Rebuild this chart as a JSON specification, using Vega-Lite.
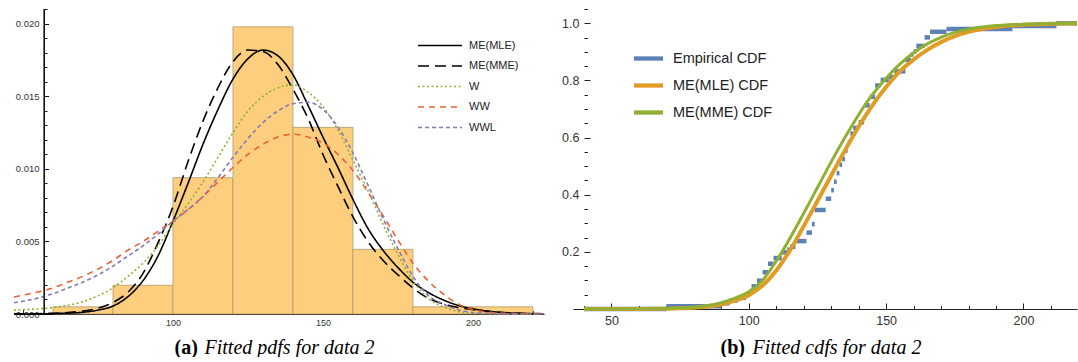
{
"$schema":"https://vega.github.io/schema/vega-lite/v6.json",
"padding":{"left":10,"top":8,"right":0,"bottom":0},
"background":"white",
"spacing":14,
"resolve":{"scale":{"color":"independent","strokeDash":"independent"},"legend":{"color":"independent","strokeDash":"independent"}},
"config":{"view":{"stroke":null},"axis":{"grid":false,"labelFont":"Liberation Sans","labelColor":"#333","zindex":1}},
"datasets":{
"hist":[{"lo":60,"hi":80,"density":0.000495},{"lo":80,"hi":100,"density":0.00198},{"lo":100,"hi":120,"density":0.0094},{"lo":120,"hi":140,"density":0.0198},{"lo":140,"hi":160,"density":0.01287},{"lo":160,"hi":180,"density":0.00446},{"lo":180,"hi":220,"density":0.000495}],
"origin":[{"x0":57}],
"pdf":[
{"x":47,"y":0,"m":"ME(MLE)"},{"x":50,"y":0,"m":"ME(MLE)"},{"x":55,"y":0.00001,"m":"ME(MLE)"},{"x":60,"y":0.00003,"m":"ME(MLE)"},{"x":65,"y":0.00006,"m":"ME(MLE)"},{"x":70,"y":0.00012,"m":"ME(MLE)"},{"x":75,"y":0.00027,"m":"ME(MLE)"},{"x":80,"y":0.00055,"m":"ME(MLE)"},{"x":85,"y":0.0012,"m":"ME(MLE)"},{"x":90,"y":0.0023,"m":"ME(MLE)"},{"x":95,"y":0.004,"m":"ME(MLE)"},{"x":100,"y":0.0064,"m":"ME(MLE)"},{"x":105,"y":0.009,"m":"ME(MLE)"},{"x":110,"y":0.0117,"m":"ME(MLE)"},{"x":115,"y":0.0141,"m":"ME(MLE)"},{"x":120,"y":0.0162,"m":"ME(MLE)"},{"x":125,"y":0.0176,"m":"ME(MLE)"},{"x":130,"y":0.0182,"m":"ME(MLE)"},{"x":135,"y":0.0178,"m":"ME(MLE)"},{"x":140,"y":0.0165,"m":"ME(MLE)"},{"x":145,"y":0.0144,"m":"ME(MLE)"},{"x":150,"y":0.0122,"m":"ME(MLE)"},{"x":155,"y":0.0101,"m":"ME(MLE)"},{"x":160,"y":0.0079,"m":"ME(MLE)"},{"x":165,"y":0.0059,"m":"ME(MLE)"},{"x":170,"y":0.0044,"m":"ME(MLE)"},{"x":175,"y":0.0032,"m":"ME(MLE)"},{"x":180,"y":0.0022,"m":"ME(MLE)"},{"x":185,"y":0.0015,"m":"ME(MLE)"},{"x":190,"y":0.00098,"m":"ME(MLE)"},{"x":195,"y":0.0006,"m":"ME(MLE)"},{"x":200,"y":0.00036,"m":"ME(MLE)"},{"x":205,"y":0.0002,"m":"ME(MLE)"},{"x":210,"y":0.0001,"m":"ME(MLE)"},{"x":215,"y":0.00005,"m":"ME(MLE)"},{"x":220,"y":0.00002,"m":"ME(MLE)"},{"x":223.5,"y":0.00001,"m":"ME(MLE)"},
{"x":47,"y":0,"m":"ME(MME)"},{"x":50,"y":0.00001,"m":"ME(MME)"},{"x":55,"y":0.00002,"m":"ME(MME)"},{"x":60,"y":0.00005,"m":"ME(MME)"},{"x":65,"y":0.0001,"m":"ME(MME)"},{"x":70,"y":0.0002,"m":"ME(MME)"},{"x":75,"y":0.0004,"m":"ME(MME)"},{"x":80,"y":0.0008,"m":"ME(MME)"},{"x":85,"y":0.0015,"m":"ME(MME)"},{"x":90,"y":0.0028,"m":"ME(MME)"},{"x":95,"y":0.0049,"m":"ME(MME)"},{"x":100,"y":0.0074,"m":"ME(MME)"},{"x":105,"y":0.0105,"m":"ME(MME)"},{"x":110,"y":0.0133,"m":"ME(MME)"},{"x":115,"y":0.0156,"m":"ME(MME)"},{"x":120,"y":0.0174,"m":"ME(MME)"},{"x":125,"y":0.0182,"m":"ME(MME)"},{"x":130,"y":0.0181,"m":"ME(MME)"},{"x":135,"y":0.0172,"m":"ME(MME)"},{"x":140,"y":0.0155,"m":"ME(MME)"},{"x":145,"y":0.0135,"m":"ME(MME)"},{"x":150,"y":0.011,"m":"ME(MME)"},{"x":155,"y":0.0088,"m":"ME(MME)"},{"x":160,"y":0.0067,"m":"ME(MME)"},{"x":165,"y":0.005,"m":"ME(MME)"},{"x":170,"y":0.0037,"m":"ME(MME)"},{"x":175,"y":0.0027,"m":"ME(MME)"},{"x":180,"y":0.0018,"m":"ME(MME)"},{"x":185,"y":0.0011,"m":"ME(MME)"},{"x":190,"y":0.0007,"m":"ME(MME)"},{"x":195,"y":0.00045,"m":"ME(MME)"},{"x":200,"y":0.0003,"m":"ME(MME)"},{"x":205,"y":0.00018,"m":"ME(MME)"},{"x":210,"y":0.0001,"m":"ME(MME)"},{"x":215,"y":0.00005,"m":"ME(MME)"},{"x":220,"y":0.00003,"m":"ME(MME)"},{"x":223.5,"y":0.00002,"m":"ME(MME)"},
{"x":47,"y":0.00027,"m":"W"},{"x":50,"y":0.0003,"m":"W"},{"x":55,"y":0.00035,"m":"W"},{"x":60,"y":0.00045,"m":"W"},{"x":65,"y":0.0006,"m":"W"},{"x":70,"y":0.00085,"m":"W"},{"x":75,"y":0.00125,"m":"W"},{"x":80,"y":0.0018,"m":"W"},{"x":85,"y":0.0026,"m":"W"},{"x":90,"y":0.0035,"m":"W"},{"x":95,"y":0.0047,"m":"W"},{"x":100,"y":0.0062,"m":"W"},{"x":105,"y":0.0076,"m":"W"},{"x":110,"y":0.0091,"m":"W"},{"x":115,"y":0.0108,"m":"W"},{"x":120,"y":0.0125,"m":"W"},{"x":125,"y":0.014,"m":"W"},{"x":130,"y":0.015,"m":"W"},{"x":135,"y":0.0156,"m":"W"},{"x":140,"y":0.0158,"m":"W"},{"x":145,"y":0.0153,"m":"W"},{"x":150,"y":0.0143,"m":"W"},{"x":155,"y":0.0127,"m":"W"},{"x":160,"y":0.0106,"m":"W"},{"x":165,"y":0.0085,"m":"W"},{"x":170,"y":0.0062,"m":"W"},{"x":175,"y":0.0041,"m":"W"},{"x":180,"y":0.0023,"m":"W"},{"x":185,"y":0.0011,"m":"W"},{"x":190,"y":0.0005,"m":"W"},{"x":195,"y":0.00018,"m":"W"},{"x":200,"y":0.00006,"m":"W"},{"x":205,"y":0.00002,"m":"W"},{"x":210,"y":0.00001,"m":"W"},{"x":215,"y":0,"m":"W"},{"x":220,"y":0,"m":"W"},{"x":223.5,"y":0,"m":"W"},
{"x":47,"y":0.00117,"m":"WW"},{"x":50,"y":0.0013,"m":"WW"},{"x":55,"y":0.00152,"m":"WW"},{"x":60,"y":0.0018,"m":"WW"},{"x":65,"y":0.0022,"m":"WW"},{"x":70,"y":0.0026,"m":"WW"},{"x":75,"y":0.0031,"m":"WW"},{"x":80,"y":0.0037,"m":"WW"},{"x":85,"y":0.0044,"m":"WW"},{"x":90,"y":0.005,"m":"WW"},{"x":95,"y":0.0057,"m":"WW"},{"x":100,"y":0.0064,"m":"WW"},{"x":105,"y":0.0072,"m":"WW"},{"x":110,"y":0.0081,"m":"WW"},{"x":115,"y":0.0091,"m":"WW"},{"x":120,"y":0.0101,"m":"WW"},{"x":125,"y":0.011,"m":"WW"},{"x":130,"y":0.0117,"m":"WW"},{"x":135,"y":0.0122,"m":"WW"},{"x":140,"y":0.0124,"m":"WW"},{"x":145,"y":0.0122,"m":"WW"},{"x":150,"y":0.0118,"m":"WW"},{"x":155,"y":0.011,"m":"WW"},{"x":160,"y":0.0099,"m":"WW"},{"x":165,"y":0.0084,"m":"WW"},{"x":170,"y":0.0068,"m":"WW"},{"x":175,"y":0.0051,"m":"WW"},{"x":180,"y":0.0035,"m":"WW"},{"x":185,"y":0.0023,"m":"WW"},{"x":190,"y":0.0014,"m":"WW"},{"x":195,"y":0.0007,"m":"WW"},{"x":200,"y":0.0003,"m":"WW"},{"x":205,"y":0.00012,"m":"WW"},{"x":210,"y":0.00005,"m":"WW"},{"x":215,"y":0.00002,"m":"WW"},{"x":220,"y":0,"m":"WW"},{"x":223.5,"y":0,"m":"WW"},
{"x":47,"y":0.00078,"m":"WWL"},{"x":50,"y":0.00088,"m":"WWL"},{"x":55,"y":0.0011,"m":"WWL"},{"x":60,"y":0.0014,"m":"WWL"},{"x":65,"y":0.0018,"m":"WWL"},{"x":70,"y":0.0022,"m":"WWL"},{"x":75,"y":0.0027,"m":"WWL"},{"x":80,"y":0.0033,"m":"WWL"},{"x":85,"y":0.004,"m":"WWL"},{"x":90,"y":0.0047,"m":"WWL"},{"x":95,"y":0.0055,"m":"WWL"},{"x":100,"y":0.0064,"m":"WWL"},{"x":105,"y":0.0072,"m":"WWL"},{"x":110,"y":0.0081,"m":"WWL"},{"x":115,"y":0.0094,"m":"WWL"},{"x":120,"y":0.0108,"m":"WWL"},{"x":125,"y":0.0121,"m":"WWL"},{"x":130,"y":0.0132,"m":"WWL"},{"x":135,"y":0.014,"m":"WWL"},{"x":140,"y":0.0145,"m":"WWL"},{"x":145,"y":0.0146,"m":"WWL"},{"x":150,"y":0.0141,"m":"WWL"},{"x":155,"y":0.0129,"m":"WWL"},{"x":160,"y":0.0111,"m":"WWL"},{"x":165,"y":0.0089,"m":"WWL"},{"x":170,"y":0.0066,"m":"WWL"},{"x":175,"y":0.0045,"m":"WWL"},{"x":180,"y":0.0026,"m":"WWL"},{"x":185,"y":0.0013,"m":"WWL"},{"x":190,"y":0.0007,"m":"WWL"},{"x":195,"y":0.0003,"m":"WWL"},{"x":200,"y":0.0001,"m":"WWL"},{"x":205,"y":0.00004,"m":"WWL"},{"x":210,"y":0.00001,"m":"WWL"},{"x":215,"y":0,"m":"WWL"},{"x":220,"y":0,"m":"WWL"},{"x":223.5,"y":0,"m":"WWL"}
],
"ecdf":[
{"x":40,"x2":70,"F":0},{"x":70,"x2":90,"F":0.0099},{"x":90,"x2":93,"F":0.0198},{"x":93,"x2":96,"F":0.0297},{"x":96,"x2":99,"F":0.0396},{"x":99,"x2":100,"F":0.0495},{"x":100,"x2":101,"F":0.0594},{"x":101,"x2":103,"F":0.0792},{"x":103,"x2":105,"F":0.099},{"x":105,"x2":107,"F":0.1287},{"x":107,"x2":109,"F":0.1584},{"x":109,"x2":112,"F":0.1782},{"x":112,"x2":114,"F":0.198},{"x":114,"x2":115,"F":0.2079},{"x":115,"x2":117,"F":0.2178},{"x":117,"x2":121,"F":0.2376},{"x":121,"x2":123,"F":0.2673},{"x":123,"x2":124,"F":0.297},{"x":124,"x2":128,"F":0.3465},{"x":128,"x2":130,"F":0.3861},{"x":130,"x2":131,"F":0.4158},{"x":131,"x2":132,"F":0.4455},{"x":132,"x2":133,"F":0.4752},{"x":133,"x2":134,"F":0.505},{"x":134,"x2":135,"F":0.5248},{"x":135,"x2":136,"F":0.5545},{"x":136,"x2":137,"F":0.5842},{"x":137,"x2":138,"F":0.6139},{"x":138,"x2":140,"F":0.6337},{"x":140,"x2":142,"F":0.6535},{"x":142,"x2":144,"F":0.7129},{"x":144,"x2":146,"F":0.7426},{"x":146,"x2":148,"F":0.7822},{"x":148,"x2":151,"F":0.802},{"x":151,"x2":153,"F":0.8119},{"x":153,"x2":157,"F":0.8317},{"x":157,"x2":159,"F":0.8713},{"x":159,"x2":160,"F":0.8911},{"x":160,"x2":161,"F":0.901},{"x":161,"x2":164,"F":0.9208},{"x":164,"x2":166,"F":0.9505},{"x":166,"x2":172,"F":0.9703},{"x":172,"x2":196,"F":0.9802},{"x":196,"x2":212,"F":0.9901},{"x":212,"x2":219.5,"F":1.0}
],
"cdfmle":[
{"x":40,"F":0,"s":"ME(MLE) CDF"},{"x":45,"F":0,"s":"ME(MLE) CDF"},{"x":50,"F":0,"s":"ME(MLE) CDF"},{"x":55,"F":0.0001,"s":"ME(MLE) CDF"},{"x":60,"F":0.0003,"s":"ME(MLE) CDF"},{"x":65,"F":0.0006,"s":"ME(MLE) CDF"},{"x":70,"F":0.0012,"s":"ME(MLE) CDF"},{"x":75,"F":0.0025,"s":"ME(MLE) CDF"},{"x":80,"F":0.0045,"s":"ME(MLE) CDF"},{"x":85,"F":0.0085,"s":"ME(MLE) CDF"},{"x":90,"F":0.016,"s":"ME(MLE) CDF"},{"x":95,"F":0.029,"s":"ME(MLE) CDF"},{"x":100,"F":0.048,"s":"ME(MLE) CDF"},{"x":105,"F":0.082,"s":"ME(MLE) CDF"},{"x":110,"F":0.135,"s":"ME(MLE) CDF"},{"x":115,"F":0.205,"s":"ME(MLE) CDF"},{"x":120,"F":0.29,"s":"ME(MLE) CDF"},{"x":125,"F":0.378,"s":"ME(MLE) CDF"},{"x":130,"F":0.467,"s":"ME(MLE) CDF"},{"x":135,"F":0.555,"s":"ME(MLE) CDF"},{"x":140,"F":0.638,"s":"ME(MLE) CDF"},{"x":145,"F":0.713,"s":"ME(MLE) CDF"},{"x":150,"F":0.777,"s":"ME(MLE) CDF"},{"x":155,"F":0.832,"s":"ME(MLE) CDF"},{"x":160,"F":0.873,"s":"ME(MLE) CDF"},{"x":165,"F":0.907,"s":"ME(MLE) CDF"},{"x":170,"F":0.934,"s":"ME(MLE) CDF"},{"x":175,"F":0.955,"s":"ME(MLE) CDF"},{"x":180,"F":0.97,"s":"ME(MLE) CDF"},{"x":185,"F":0.98,"s":"ME(MLE) CDF"},{"x":190,"F":0.987,"s":"ME(MLE) CDF"},{"x":195,"F":0.992,"s":"ME(MLE) CDF"},{"x":200,"F":0.995,"s":"ME(MLE) CDF"},{"x":205,"F":0.997,"s":"ME(MLE) CDF"},{"x":210,"F":0.998,"s":"ME(MLE) CDF"},{"x":215,"F":0.999,"s":"ME(MLE) CDF"},{"x":219.5,"F":0.9995,"s":"ME(MLE) CDF"}
],
"cdfmme":[
{"x":40,"F":0,"s":"ME(MME) CDF"},{"x":45,"F":0,"s":"ME(MME) CDF"},{"x":50,"F":0.0001,"s":"ME(MME) CDF"},{"x":55,"F":0.0002,"s":"ME(MME) CDF"},{"x":60,"F":0.0005,"s":"ME(MME) CDF"},{"x":65,"F":0.001,"s":"ME(MME) CDF"},{"x":70,"F":0.002,"s":"ME(MME) CDF"},{"x":75,"F":0.0035,"s":"ME(MME) CDF"},{"x":80,"F":0.006,"s":"ME(MME) CDF"},{"x":85,"F":0.012,"s":"ME(MME) CDF"},{"x":90,"F":0.022,"s":"ME(MME) CDF"},{"x":95,"F":0.038,"s":"ME(MME) CDF"},{"x":100,"F":0.06,"s":"ME(MME) CDF"},{"x":105,"F":0.1,"s":"ME(MME) CDF"},{"x":110,"F":0.168,"s":"ME(MME) CDF"},{"x":115,"F":0.248,"s":"ME(MME) CDF"},{"x":120,"F":0.335,"s":"ME(MME) CDF"},{"x":125,"F":0.425,"s":"ME(MME) CDF"},{"x":130,"F":0.515,"s":"ME(MME) CDF"},{"x":135,"F":0.6,"s":"ME(MME) CDF"},{"x":140,"F":0.68,"s":"ME(MME) CDF"},{"x":145,"F":0.75,"s":"ME(MME) CDF"},{"x":150,"F":0.808,"s":"ME(MME) CDF"},{"x":155,"F":0.857,"s":"ME(MME) CDF"},{"x":160,"F":0.897,"s":"ME(MME) CDF"},{"x":165,"F":0.928,"s":"ME(MME) CDF"},{"x":170,"F":0.951,"s":"ME(MME) CDF"},{"x":175,"F":0.968,"s":"ME(MME) CDF"},{"x":180,"F":0.979,"s":"ME(MME) CDF"},{"x":185,"F":0.987,"s":"ME(MME) CDF"},{"x":190,"F":0.992,"s":"ME(MME) CDF"},{"x":195,"F":0.995,"s":"ME(MME) CDF"},{"x":200,"F":0.997,"s":"ME(MME) CDF"},{"x":205,"F":0.998,"s":"ME(MME) CDF"},{"x":210,"F":0.999,"s":"ME(MME) CDF"},{"x":215,"F":0.9995,"s":"ME(MME) CDF"},{"x":219.5,"F":1.0,"s":"ME(MME) CDF"}
]
},
"hconcat":[
{
"width":530,"height":305,
"resolve":{"axis":{"x":"independent","y":"independent"}},
"layer":[
{"data":{"name":"hist"},
 "mark":{"type":"rect","fill":"#FCCE7E","stroke":"#b09a70","strokeWidth":0.8},
 "encoding":{
  "x":{"field":"lo","type":"quantitative","scale":{"domain":[47,223.7],"nice":false,"zero":false},
       "axis":{"orient":"bottom","values":[50,60,70,80,90,100,110,120,130,140,150,160,170,180,190,200,210,220],"labels":false,"domain":false,"ticks":true,
               "tickSize":{"condition":{"test":"datum.value % 50 === 0","value":-5},"value":-3.5},"tickColor":"#222","tickWidth":1,"tickOpacity":1,
               "title":"Fitted pdfs for data 2","titleFont":"Liberation Serif","titleFontStyle":"italic","titleFontWeight":"normal","titleFontSize":20,"titleColor":"#000","titleX":190,"titleY":39,"titleAlign":"left","titleBaseline":"alphabetic","titleAngle":0}},
  "x2":{"field":"hi"},
  "y":{"field":"density","type":"quantitative","scale":{"domain":[0,0.02103],"nice":false},
       "axis":{"orient":"left","offset":-30,"values":[0,0.001,0.002,0.003,0.004,0.005,0.006,0.007,0.008,0.009,0.01,0.011,0.012,0.013,0.014,0.015,0.016,0.017,0.018,0.019,0.02,0.021],"labels":false,"domain":false,"ticks":true,
               "tickSize":{"condition":{"test":"abs(datum.value*200 - round(datum.value*200)) < 0.001","value":-4.5},"value":-3},"tickColor":"#111","tickWidth":1,"tickOpacity":1,"title":null}},
  "y2":{"datum":0}
 }},
{"data":{"name":"pdf"},
 "mark":{"type":"line","strokeWidth":1.6,"interpolate":"monotone"},
 "encoding":{
  "x":{"field":"x","type":"quantitative",
       "axis":{"orient":"bottom","values":[100,150,200],"ticks":false,"domain":true,"domainColor":"#111","domainWidth":1,"domainOpacity":1,"labelFontSize":9,"labelPadding":4,"labelFlush":false,
               "title":"(a)","titleFont":"Liberation Serif","titleFontWeight":"bold","titleFontSize":20,"titleColor":"#000","titleX":160,"titleY":39,"titleAlign":"left","titleBaseline":"alphabetic","titleAngle":0}},
  "y":{"field":"y","type":"quantitative",
       "axis":{"orient":"left","offset":-30,"values":[0,0.005,0.01,0.015,0.02],"format":".3f","ticks":false,"domain":true,"domainColor":"#111","domainWidth":1,"domainOpacity":1,"labelFontSize":9.5,"labelPadding":5,"labelFlush":false,"title":null}},
  "color":{"field":"m","type":"nominal","scale":{"domain":["ME(MLE)","ME(MME)","W","WW","WWL"],"range":["#000000","#000000","#8FB032","#EB6235","#8778B3"]},
           "legend":{"orient":"none","legendX":419.5,"legendY":30,"title":null,"symbolType":"M-4,0L4,0","symbolSize":121,"symbolStrokeWidth":1.5,"labelFontSize":11,"labelFont":"Liberation Sans","labelColor":"#222","labelOffset":22.5,"rowPadding":8.5,"padding":0}},
  "strokeDash":{"field":"m","type":"nominal","scale":{"domain":["ME(MLE)","ME(MME)","W","WW","WWL"],"range":[[1,0],[11,6],[2,2.5],[6,5],[4,3]]},
           "legend":{"orient":"none","legendX":419.5,"legendY":30,"title":null,"symbolType":"M-4,0L4,0","symbolSize":121,"symbolStrokeWidth":1.5,"labelFontSize":11,"labelFont":"Liberation Sans","labelColor":"#222","labelOffset":22.5,"rowPadding":8.5,"padding":0}}
 }},
{"data":{"name":"origin"},
 "mark":{"type":"rule","color":"#111111","strokeWidth":1.2},
 "encoding":{
  "x":{"field":"x0","type":"quantitative","axis":null}
 }}
]
},
{
"width":504,"height":300,
"resolve":{"axis":{"x":"independent","y":"independent"}},
"layer":[
{"data":{"name":"ecdf"},
 "mark":{"type":"rule","strokeWidth":4.5,"strokeCap":"butt","color":"#5E81B5"},
 "encoding":{
  "x":{"field":"x","type":"quantitative","scale":{"domain":[36,219.5],"nice":false,"zero":false},
       "axis":{"orient":"bottom","values":[50,100,150,200],"ticks":false,"domain":true,"domainColor":"#222","domainWidth":1,"labelFontSize":12.5,"labelPadding":5,"labelFlush":false,
               "title":"(b)","titleFont":"Liberation Serif","titleFontWeight":"bold","titleFontSize":20,"titleColor":"#000","titleX":147,"titleY":44,"titleAlign":"left","titleBaseline":"alphabetic","titleAngle":0}},
  "x2":{"field":"x2"},
  "y":{"field":"F","type":"quantitative","scale":{"domain":[0,1.05],"nice":false},
       "axis":{"orient":"left","offset":-11,"values":[0.2,0.4,0.6,0.8,1.0],"format":".1f","ticks":false,"domain":false,"labelFontSize":12.5,"labelPadding":5,"labelFlush":false,"title":null}}
 }},
{"data":{"name":"cdfmle"},
 "mark":{"type":"line","strokeWidth":4,"interpolate":"monotone"},
 "encoding":{
  "x":{"field":"x","type":"quantitative",
       "axis":{"orient":"bottom","values":[40,50,60,70,80,90,100,110,120,130,140,150,160,170,180,190,200,210],"domain":false,"labels":false,"ticks":true,"tickColor":"#222","tickWidth":1,
               "tickSize":{"condition":{"test":"datum.value % 50 === 0","value":-6},"value":-3.5},
               "title":"Fitted cdfs for data 2","titleFont":"Liberation Serif","titleFontStyle":"italic","titleFontWeight":"normal","titleFontSize":20,"titleColor":"#000","titleX":179,"titleY":44,"titleAlign":"left","titleBaseline":"alphabetic","titleAngle":0}},
  "y":{"field":"F","type":"quantitative",
       "axis":{"orient":"left","offset":-11,"values":[0,0.05,0.1,0.15,0.2,0.25,0.3,0.35,0.4,0.45,0.5,0.55,0.6,0.65,0.7,0.75,0.8,0.85,0.9,0.95,1.0,1.05],"labels":false,"domain":false,"tickColor":"#222","tickWidth":1,
               "tickSize":{"condition":{"test":"abs(datum.value*5 - round(datum.value*5)) < 0.001","value":-6},"value":-3.5},"title":null}},
  "color":{"field":"s","type":"nominal","scale":{"domain":["Empirical CDF","ME(MLE) CDF","ME(MME) CDF"],"range":["#5E81B5","#E19C24","#8FB032"]},
           "legend":{"orient":"none","legendX":66,"legendY":40,"title":null,"symbolType":"M-2,0L2,0","symbolSize":210,"symbolStrokeWidth":4.3,"labelFontSize":14.5,"labelFont":"Liberation Sans","labelColor":"#222","labelOffset":15,"rowPadding":8,"padding":0}}
 }},
{"data":{"name":"cdfmme"},
 "mark":{"type":"line","strokeWidth":3,"interpolate":"monotone"},
 "encoding":{
  "x":{"field":"x","type":"quantitative","axis":null},
  "y":{"field":"F","type":"quantitative","axis":null},
  "color":{"field":"s","type":"nominal",
           "legend":{"orient":"none","legendX":66,"legendY":40,"title":null,"symbolType":"M-2,0L2,0","symbolSize":210,"symbolStrokeWidth":4.3,"labelFontSize":14.5,"labelFont":"Liberation Sans","labelColor":"#222","labelOffset":15,"rowPadding":8,"padding":0}}
 }}
]
}
]
}
